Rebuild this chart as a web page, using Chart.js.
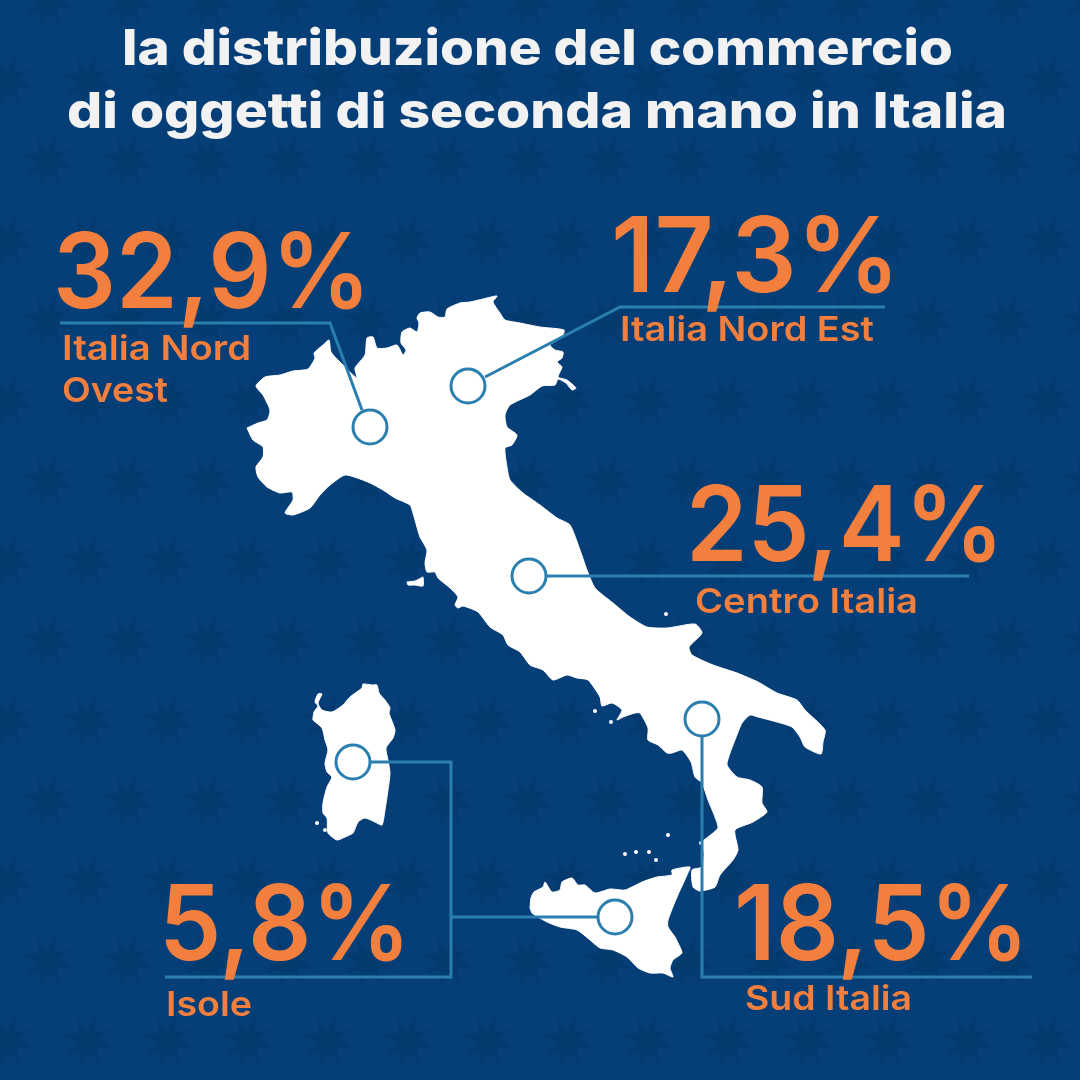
<!DOCTYPE html>
<html lang="it">
<head>
<meta charset="utf-8">
<title>Commercio di oggetti di seconda mano in Italia</title>
<script src="https://cdn.jsdelivr.net/npm/chart.js@4"></script>
<style>
  html, body { margin:0; padding:0; background:#063f78; }
  canvas { display:block; }
</style>
</head>
<body>
<canvas id="chartMappa" width="1080" height="1080"></canvas>
<script>
// ── Dati ──
const titoloRighe = ['la distribuzione del commercio', 'di oggetti di seconda mano in Italia'];
const regioni = ['Italia Nord Ovest', 'Italia Nord Est', 'Centro Italia', 'Sud Italia', 'Isole'];
const quote = [32.9, 17.3, 25.4, 18.5, 5.8];

// marcatori sulla mappa (Isole ne ha due)
const marcatoriX = [370, 468, 529, 702, 353, 615];
const marcatoriY = [427, 386, 576, 719, 762, 917];

// sagome: [x, y]
const italia = [[247,428],[258,423],[267,420],[270,412],[269,407],[263,395],[256,386],[265,377],[280,375],[293,371],[308,369],[315,358],[314,353],[323,345],[329,340],[331,352],[340,362],[350,372],[357,378],[355,368],[365,355],[367,338],[373,337],[377,348],[387,348],[397,345],[403,355],[406,350],[401,343],[402,332],[410,328],[417,332],[419,323],[417,318],[420,313],[430,312],[438,317],[445,317],[447,309],[460,303],[470,302],[483,299],[497,296],[493,302],[500,313],[505,320],[520,323],[540,327],[564,330],[562,337],[550,345],[555,350],[563,352],[562,358],[557,362],[562,367],[558,377],[567,380],[576,388],[572,390],[566,383],[558,379],[555,385],[542,386],[530,395],[510,405],[505,415],[507,427],[517,435],[512,445],[505,448],[507,467],[510,480],[523,493],[540,505],[557,518],[570,525],[580,550],[587,570],[595,588],[613,603],[630,617],[647,627],[667,628],[695,624],[702,633],[689,647],[692,655],[713,665],[737,673],[758,682],[777,693],[797,700],[805,710],[825,730],[823,742],[821,754],[805,747],[800,737],[792,727],[777,722],[758,717],[750,715],[742,723],[735,740],[730,753],[727,765],[737,777],[750,780],[762,787],[762,803],[767,812],[753,822],[735,830],[738,850],[733,860],[720,875],[715,887],[700,891],[693,887],[692,870],[702,867],[704,853],[702,842],[708,837],[718,828],[715,817],[708,800],[702,783],[695,777],[691,762],[682,750],[672,753],[667,753],[658,745],[648,740],[648,728],[640,713],[635,713],[623,717],[617,720],[622,710],[612,703],[602,706],[600,697],[588,680],[577,678],[567,675],[553,680],[543,670],[530,665],[520,652],[508,645],[503,635],[490,627],[478,612],[463,606],[458,608],[455,605],[458,597],[450,588],[438,578],[435,572],[427,572],[425,563],[427,550],[420,537],[413,513],[410,505],[395,498],[383,490],[370,483],[360,479],[345,475],[330,485],[320,495],[310,508],[293,515],[285,513],[293,500],[292,492],[280,493],[267,487],[258,477],[256,467],[263,457],[263,447],[253,440],[247,428]];
const sicilia = [[530,908],[531,898],[534,892],[543,887],[545,882],[552,892],[560,890],[562,882],[572,878],[578,885],[585,885],[595,893],[610,889],[625,890],[642,882],[657,877],[672,875],[672,870],[690,867],[687,875],[677,897],[668,920],[668,927],[675,937],[678,943],[682,953],[673,960],[670,968],[673,977],[663,973],[650,973],[638,968],[627,957],[613,950],[600,948],[590,940],[577,930],[560,927],[547,922],[538,917],[532,913],[530,908]];
const sardegna = [[313,718],[314,712],[318,706],[315,702],[318,694],[322,694],[318,703],[322,710],[332,712],[343,705],[350,697],[362,688],[363,684],[372,685],[377,685],[379,693],[385,700],[390,708],[389,713],[395,730],[393,738],[386,748],[388,760],[390,773],[388,790],[385,810],[382,825],[375,822],[365,818],[358,822],[353,833],[345,837],[337,840],[328,833],[327,818],[323,813],[323,803],[327,787],[332,777],[327,772],[325,763],[328,750],[325,740],[322,728],[313,720],[313,718]];
const elba = [[407,582],[415,581],[421,578],[423,577],[423,586],[415,585],[408,585],[407,582]];
const isolette = [[595,711],[611,722],[666,614],[668,835],[649,852],[656,860],[636,852],[625,854],[701,843],[317,823],[325,830]];

// linee di richiamo
const lineaOvest = [[60,323],[330,323],[362,410]];
const lineaEst = [[885,307],[620,307],[485,377]];
const lineaCentro = [[546,576],[969,576]];
const lineaSud = [[702,736],[702,977],[1032,977]];
const lineaIsole = [[370,762],[451,762],[451,977],[165,977]];
const lineaSicilia = [[451,917],[598,917]];

// motivo di sfondo
const stelleRigheA = [1, 161, 321, 481, 641, 801, 961];
const stelleRigheB = [81, 241, 401, 561, 721, 881, 1041];
const stelleColonneA = [48, 128, 208, 288, 368, 448, 528, 608, 688, 768, 848, 928, 1008, 1088];
const stelleColonneB = [8, 88, 168, 248, 328, 408, 488, 568, 648, 728, 808, 888, 968, 1048];

// testi: x sinistra, larghezza, linea di base
const titoloX = [122, 67];
const titoloW = [831, 940];
const titoloY = [65, 128];
const quotaX = [53, 611, 686, 734, 159];
const quotaW = [318, 289, 318, 295, 252];
const quotaY = [308, 292, 561, 960, 960];
const nomeRighe = [['Italia Nord', 'Ovest'], ['Italia Nord Est'], ['Centro Italia'], ['Sud Italia'], ['Isole']];
const nomeX = [[62, 62], [620], [695], [745], [166]];
const nomeW = [[189, 106], [254], [223], [167], [86]];
const nomeY = [[360, 402], [341], [613], [1010], [1016]];

const BIANCO = '#ffffff', ARANCIO = '#f27f3d', LINEA = '#2a7fae', STELLA = '#043b6f';
const FONT = 'Inter, "Noto Sans", sans-serif';

const aPunti = lista => lista.map(p => ({ x:p[0], y:p[1] }));

function sagoma(lista) {
  return { data:aPunti(lista), showLine:true, fill:'shape', tension:0.2, backgroundColor:BIANCO,
    borderColor:BIANCO, borderWidth:1, pointRadius:0, order:5 };
}
function linea(lista) {
  return { data:aPunti(lista), showLine:true, fill:false, tension:0, borderColor:LINEA,
    borderWidth:3, borderJoinStyle:'miter', pointRadius:0, order:3 };
}

// stella a otto punte per lo sfondo
function creaStella() {
  const c = document.createElement('canvas');
  c.width = 54; c.height = 54;
  const g = c.getContext('2d');
  g.fillStyle = STELLA;
  g.beginPath();
  for (let i = 0; i < 16; i++) {
    const r = i % 2 ? 11 : 26;
    const a = (i * Math.PI / 8) - Math.PI / 2 + 0.3;
    g.lineTo(27 + r * Math.cos(a), 27 + r * Math.sin(a));
  }
  g.closePath(); g.fill();
  return c;
}

const stelle = [];
stelleRigheA.forEach(y => stelleColonneA.forEach(x => stelle.push({ x, y })));
stelleRigheB.forEach(y => stelleColonneB.forEach(x => stelle.push({ x, y })));

// testo adattato alla larghezza
function scriviTesto(ctx, testo, x, y, w, font, colore) {
  ctx.font = font;
  ctx.fillStyle = colore;
  ctx.textAlign = 'left';
  ctx.textBaseline = 'alphabetic';
  const k = w / ctx.measureText(testo).width;
  ctx.save();
  ctx.translate(x, y);
  ctx.scale(k, 1);
  ctx.fillText(testo, 0, 0);
  ctx.restore();
}

const pluginTesti = {
  id: 'testi',
  afterDatasetsDraw(chart) {
    const { ctx, scales:{ x:sx, y:sy } } = chart;
    const px = v => sx.getPixelForValue(v);
    const py = v => sy.getPixelForValue(v);
    titoloRighe.forEach((t, i) => {
      scriviTesto(ctx, t, px(titoloX[i]), py(titoloY[i]), titoloW[i], `800 50px ${FONT}`, '#f2f2f2');
    });
    quote.forEach((q, i) => {
      const testo = q.toFixed(1).replace('.', ',') + '%';
      scriviTesto(ctx, testo, px(quotaX[i]), py(quotaY[i]), quotaW[i], `600 104px ${FONT}`, ARANCIO);
      nomeRighe[i].forEach((r, j) => {
        scriviTesto(ctx, r, px(nomeX[i][j]), py(nomeY[i][j]), nomeW[i][j], `600 34px ${FONT}`, ARANCIO);
      });
    });
  }
};

new Chart(document.getElementById('chartMappa'), {
  type: 'scatter',
  data: {
    datasets: [
      { data:stelle, pointStyle:creaStella(), pointRadius:25, order:9, clip:false },
      sagoma(italia), sagoma(sicilia), sagoma(sardegna), sagoma(elba),
      { data:aPunti(isolette), pointRadius:2, pointBackgroundColor:BIANCO, pointBorderWidth:0, order:5 },
      linea(lineaOvest), linea(lineaEst), linea(lineaCentro), linea(lineaSud), linea(lineaIsole), linea(lineaSicilia),
      { label:regioni.join(', '), data:marcatoriX.map((x, i) => ({ x, y:marcatoriY[i] })), pointRadius:17,
        pointBackgroundColor:BIANCO, pointBorderColor:LINEA, pointBorderWidth:3, order:1 },
    ]
  },
  options: {
    responsive:false, animation:false, events:[],
    layout:{ padding:0, autoPadding:false },
    plugins:{ legend:{ display:false }, tooltip:{ enabled:false } },
    scales:{
      x:{ type:'linear', min:0, max:1080, display:false },
      y:{ type:'linear', min:0, max:1080, reverse:true, display:false },
    }
  },
  plugins:[pluginTesti]
});
</script>
</body>
</html>
